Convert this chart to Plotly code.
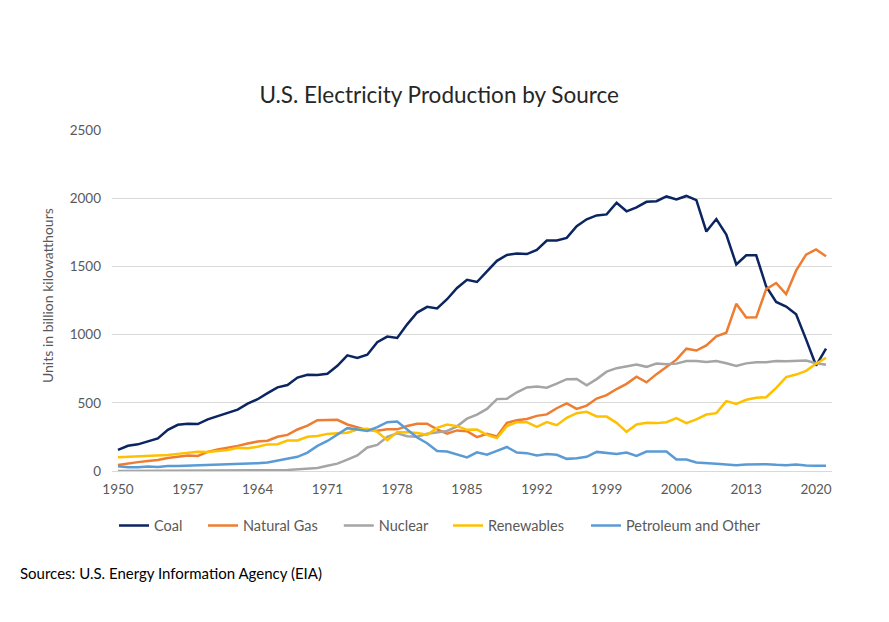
import plotly.graph_objects as go

years = list(range(1950, 2022))

coal = [154.5, 185.2, 195.4, 218.8, 239.1, 301.4, 338.5, 346.4, 344.4, 378.4,
        403.1, 422.2, 450.2, 493.9, 526.2, 570.9, 613.5, 630.5, 684.9, 706.0,
        704.4, 713.1, 771.1, 847.7, 828.4, 852.8, 944.4, 985.2, 975.7, 1075.0,
        1161.6, 1203.2, 1192.0, 1259.4, 1341.7, 1402.1, 1385.8, 1463.8, 1540.7, 1583.8,
        1594.0, 1590.6, 1621.2, 1690.1, 1690.7, 1709.4, 1795.2, 1845.0, 1873.5, 1881.1,
        1966.3, 1904.0, 1933.1, 1973.7, 1978.3, 2012.9, 1990.5, 2016.5, 1985.8, 1755.9,
        1847.3, 1733.4, 1514.0, 1581.1, 1581.7, 1352.4, 1239.1, 1205.8, 1149.5, 965.0,
        773.4, 897.9]

natural_gas = [44.6, 56.7, 65.0, 73.0, 81.0, 95.3, 104.0, 114.1, 110.3, 140.0,
               158.0, 169.3, 184.3, 201.6, 216.0, 221.6, 251.2, 264.8, 304.4, 333.3,
               372.9, 374.0, 375.7, 340.9, 320.1, 299.8, 294.6, 305.5, 305.4, 329.5,
               346.2, 346.2, 305.3, 274.1, 297.4, 291.9, 248.5, 272.6, 252.8, 352.6,
               372.8, 381.6, 404.1, 414.9, 460.2, 496.1, 455.1, 479.4, 531.3, 556.4,
               601.0, 639.1, 691.0, 649.9, 710.1, 761.0, 816.4, 896.6, 883.0, 921.0,
               987.7, 1013.7, 1225.9, 1124.8, 1126.6, 1333.5, 1378.3, 1296.4, 1468.5, 1585.8,
               1624.0, 1575.0]

nuclear = [0, 0, 0, 0, 0, 0, 0, 0.01, 0.2, 0.2,
           0.5, 1.7, 2.3, 3.2, 3.3, 3.7, 5.5, 7.7, 12.5, 13.9,
           21.8, 38.1, 54.1, 83.5, 114.0, 172.5, 191.1, 250.9, 276.4, 255.2,
           251.1, 272.7, 282.8, 293.7, 327.6, 383.7, 414.0, 455.3, 527.0, 529.4,
           576.9, 612.6, 618.8, 610.3, 640.4, 673.4, 674.7, 628.6, 673.7, 728.3,
           753.9, 768.8, 780.1, 763.7, 788.5, 782.0, 787.2, 806.4, 806.2, 798.9,
           807.0, 790.2, 769.3, 789.0, 797.2, 797.2, 805.7, 805.0, 807.1, 809.4,
           789.9, 778.2]

renewables = [101.0, 104.5, 110.0, 110.0, 112.5, 116.5, 125.5, 131.5, 140.5, 138.5,
              146.5, 153.5, 169.5, 166.5, 178.0, 195.0, 196.5, 223.5, 224.0, 251.0,
              256.0, 272.0, 277.0, 280.0, 304.0, 309.0, 287.0, 226.0, 285.0, 285.0,
              278.0, 265.0, 316.0, 341.0, 329.0, 302.0, 304.0, 265.0, 241.0, 329.0,
              358.0, 358.0, 324.0, 358.0, 336.0, 390.0, 424.0, 434.0, 400.0, 399.0,
              353.0, 287.0, 341.0, 353.0, 351.0, 358.0, 387.0, 351.0, 378.0, 414.0,
              424.0, 512.0, 492.0, 522.0, 537.0, 541.0, 610.0, 688.0, 707.0, 734.0,
              786.0, 830.0]

petroleum_other = [35.0, 28.0, 28.0, 33.0, 29.0, 37.0, 37.0, 39.0, 41.0, 46.0,
                   49.0, 50.0, 51.0, 53.0, 57.0, 62.0, 75.0, 88.0, 104.0, 135.0,
                   184.0, 220.0, 268.0, 314.0, 304.0, 294.0, 321.0, 358.0, 363.0, 304.0,
                   245.0, 204.0, 146.0, 143.0, 119.0, 100.0, 137.0, 119.0, 148.0, 176.0,
                   135.0, 131.0, 114.0, 124.0, 119.0, 89.0, 94.0, 104.0, 140.0, 131.0,
                   124.0, 136.0, 111.0, 143.0, 143.0, 143.0, 84.0, 84.0, 62.0, 55.0,
                   53.0, 48.0, 43.0, 48.0, 50.0, 50.0, 45.0, 43.0, 48.0, 40.0,
                   38.0, 38.0]

x_tick_vals = [1950, 1957, 1964, 1971, 1978, 1985, 1992, 1999, 2006, 2013, 2020]
y_tick_vals = [0, 500, 1000, 1500, 2000, 2500]

series = [
    ("Coal", coal, "#0b2560"),
    ("Natural Gas", natural_gas, "#ed7d31"),
    ("Nuclear", nuclear, "#a5a5a5"),
    ("Renewables", renewables, "#ffc000"),
    ("Petroleum and Other", petroleum_other, "#5b9bd5"),
]
legend_names = ["legend", "legend2", "legend3", "legend4", "legend5"]
legend_x = [0.0028, 0.1264, 0.315, 0.4667, 0.6583]

fig = go.Figure()
for (name, vals, color), lg in zip(series, legend_names):
    fig.add_trace(go.Scatter(x=years, y=vals, name=name, mode="lines",
                             line=dict(color=color, width=2.5), legend=lg))

font_family = "Lato, 'Open Sans', sans-serif"

layout_legends = {}
for lg, lx in zip(legend_names, legend_x):
    layout_legends[lg] = dict(orientation="h", x=lx, xanchor="left",
                              y=-0.16, yanchor="middle",
                              bgcolor="rgba(0,0,0,0)",
                              font=dict(size=14.5, color="#595959", family=font_family),
                              itemwidth=30)

fig.update_layout(
    width=889, height=622,
    paper_bgcolor="white", plot_bgcolor="white",
    margin=dict(l=104, r=65, t=122, b=159, autoexpand=False),
    font=dict(family=font_family, color="#595959", size=13),
    title=dict(text="U.S. Electricity Production by Source",
               x=0.485, xanchor="center", y=0.86, yanchor="middle",
               font=dict(size=22.5, color="#262626", family=font_family)),
    showlegend=True,
    annotations=[
        dict(text="Sources: U.S. Energy Information Agency (EIA)",
             xref="paper", yref="paper", x=-0.1306, y=-0.3, xanchor="left",
             yanchor="middle", showarrow=False,
             font=dict(size=15, color="#000000")),
        dict(text="Units in billion kilowatthours", xref="paper", yref="paper",
             x=-0.0903, y=0.516, xanchor="center", yanchor="middle",
             textangle=-90, showarrow=False,
             font=dict(size=14, color="#595959")),
    ],
    **layout_legends,
)

fig.update_xaxes(range=[1949.4, 2021.6], tickmode="array", tickvals=x_tick_vals,
                 ticktext=[str(v) for v in x_tick_vals], showgrid=False,
                 showline=True, linecolor="#d9d9d9", linewidth=1, ticks="",
                 ticklabelstandoff=6, automargin=False,
                 tickfont=dict(size=13.5, color="#595959"), zeroline=False)
fig.update_yaxes(range=[0, 2500], tickmode="array", tickvals=y_tick_vals,
                 showgrid=True, gridcolor="#d9d9d9", gridwidth=1,
                 zeroline=False, showline=False, ticks="",
                 ticklabelstandoff=10, automargin=False,
                 tickfont=dict(size=13.5, color="#595959"))

fig.write_html("out.html")
